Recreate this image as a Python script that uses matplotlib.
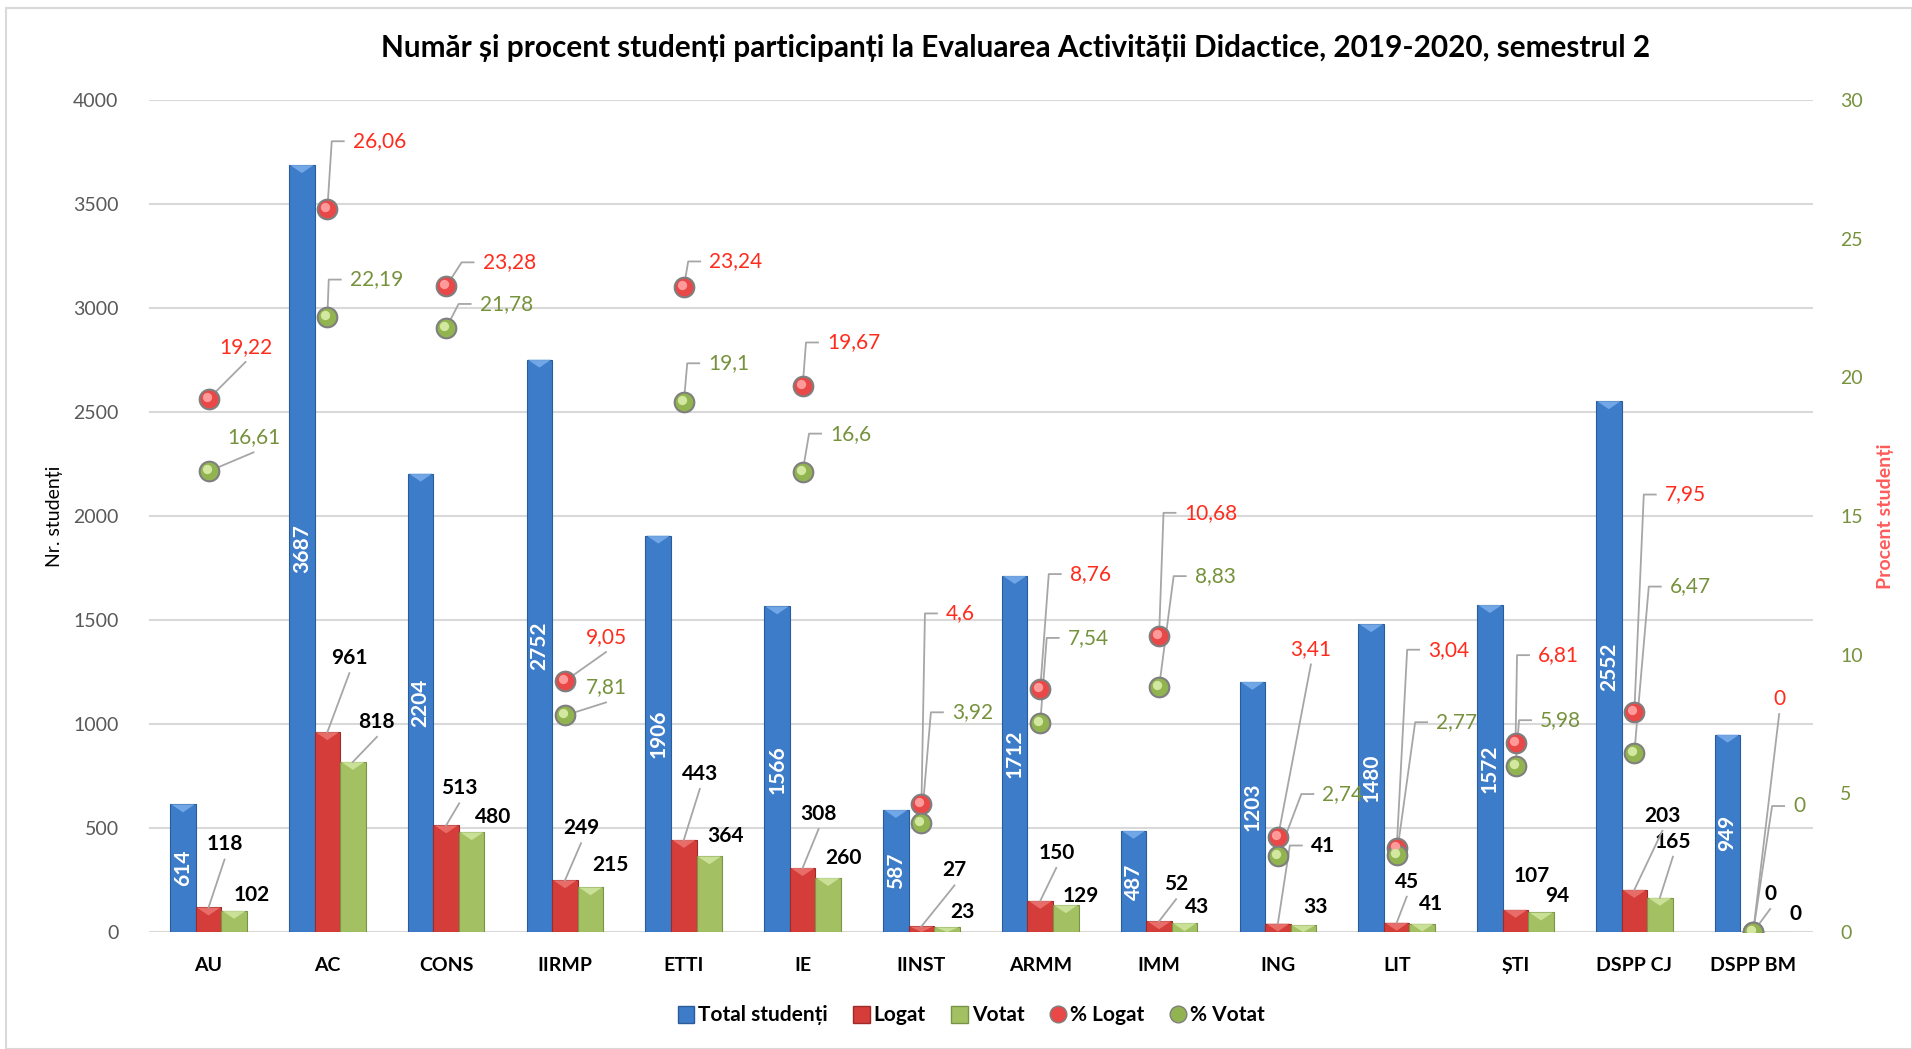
import matplotlib
matplotlib.use('Agg')
import matplotlib.pyplot as plt
import numpy as np
from matplotlib.patches import Patch, Rectangle, Polygon
from matplotlib.lines import Line2D
from matplotlib.transforms import IdentityTransform, offset_copy

plt.rcParams['font.family'] = ['Lato', 'DejaVu Sans']

facultati = ['AU', 'AC', 'CONS', 'IIRMP', 'ETTI', 'IE', 'IINST', 'ARMM', 'IMM',
             'ING', 'LIT', 'ȘTI', 'DSPP CJ', 'DSPP BM']
total = [614, 3687, 2204, 2752, 1906, 1566, 587, 1712, 487, 1203, 1480, 1572, 2552, 949]
logat = [118, 961, 513, 249, 443, 308, 27, 150, 52, 41, 45, 107, 203, 0]
votat = [102, 818, 480, 215, 364, 260, 23, 129, 43, 33, 41, 94, 165, 0]
pct_logat = [19.22, 26.06, 23.28, 9.05, 23.24, 19.67, 4.6, 8.76, 10.68, 3.41, 3.04, 6.81, 7.95, 0]
pct_votat = [16.61, 22.19, 21.78, 7.81, 19.1, 16.6, 3.92, 7.54, 8.83, 2.74, 2.77, 5.98, 6.47, 0]

# label offsets in pixels (dx, dy) from the point, as placed in the original
off_logat = [(16, 63), (22, 74), (13, 37), (16, 52), (16, 66), (16, 54), (33, 56),
             (16, 48), (17, 37), (45, 78), (10, 41), (16, 34), (28, 74), (17, 38)]
off_votat = [(18, 16), (24, 40), (21, 15), (20, 22), (16, 20), (15, 20), (15, 15),
             (15, 9), (12, 16), (12, 18), (9, 20), (16, 16), (13, 56), (17, 18)]
off_pl = [(37, 52), (52, 68), (63, 24), (41, 44), (52, 26), (51, 44), (39, 191),
          (50, 115), (52, 123), (33, 188), (52, 198), (43, 88), (51, 217), (26, 233)]
off_pv = [(45, 34), (49, 37), (60, 24), (41, 28), (45, 39), (48, 38), (51, 111),
          (48, 85), (56, 111), (65, 62), (60, 133), (45, 46), (56, 166), (46, 126)]

c_blue = '#3D7CC9'
c_red = '#D43D3A'
c_green = '#A3C163'
c_pl = '#FF2B1C'
c_pv = '#76923C'
c_lead = '#A6A6A6'


def fmt(v):
    return f'{v:g}'.replace('.', ',')


fig = plt.figure(figsize=(19.12, 10.49), dpi=100)
fig.patches.append(Rectangle((0.003, 0.0), 0.997, 0.992, transform=fig.transFigure,
                             fill=False, edgecolor='#D9D9D9', lw=1.5))
ax = fig.add_axes([0.078, 0.1115, 0.87, 0.7932])
ax2 = ax.twinx()

x = np.arange(len(facultati))
w = 0.215
series = [(x - w, total, c_blue, '#2A5C9A', '#7FB2EE'),
          (x, logat, c_red, '#9E2B28', '#EE7A76'),
          (x + w, votat, c_green, '#7A9445', '#D3E8A4')]
for xs, vals, col, edge, _ in series:
    ax.bar(xs, vals, w, color=col, edgecolor=edge, lw=0.8, zorder=2)

ax.set_xlim(-0.5, len(facultati) - 0.5)
ax.set_ylim(0, 4000)
ax.set_yticks(np.arange(0, 4001, 500))
ax.yaxis.grid(True, color='#D9D9D9', lw=1.5)
ax.set_axisbelow(True)
ax.set_xticks(x)
ax.set_xticklabels(facultati, fontsize=14, fontweight='bold')
ax.tick_params(axis='x', length=0, pad=18)
ax.tick_params(axis='y', length=0, pad=22, labelsize=14, labelcolor='#595959')
ax.set_ylabel('Nr. studenți', fontsize=14)
ax.yaxis.set_label_coords(-0.052, 0.5)

ax2.set_ylim(0, 30)
ax2.set_yticks(np.arange(0, 31, 5))
ax2.tick_params(axis='y', length=0, pad=20, labelsize=14, labelcolor=c_pv)
ax2.set_ylabel('Procent studenți', fontsize=14, fontweight='bold', color='#FF5B5B')
ax2.yaxis.set_label_coords(1.039, 0.5)
for a in (ax, ax2):
    for s in a.spines.values():
        s.set_visible(False)

ax2.scatter(x, pct_logat, s=200, color='#E94848', edgecolor='#7F7F7F', lw=1.5, zorder=4)
ax2.scatter(x, pct_votat, s=200, color='#92B450', edgecolor='#7F7F7F', lw=1.5, zorder=4)
shine = offset_copy(ax2.transData, fig=fig, x=-2, y=2, units='dots')
ax2.scatter(x, pct_logat, s=45, color='#FF9A9A', lw=0, transform=shine, zorder=4.1)
ax2.scatter(x, pct_votat, s=45, color='#D2E8A0', lw=0, transform=shine, zorder=4.1)

labels = []


def label(axis, xv, yv, text, off, color, weight):
    t = axis.annotate(text, (xv, yv), xytext=off, textcoords='offset pixels',
                      ha='center', va='center', fontsize=15, color=color,
                      fontweight=weight, annotation_clip=False, zorder=5)
    labels.append((axis, xv, yv, t))


for i in range(len(facultati)):
    ax.text(x[i] - w, total[i] / 2, str(total[i]), rotation=90, ha='center',
            va='center', color='white', fontsize=15, fontweight='bold', zorder=3)
    label(ax, x[i], logat[i], str(logat[i]), off_logat[i], 'black', 'bold')
    label(ax, x[i] + w, votat[i], str(votat[i]), off_votat[i], 'black', 'bold')
    label(ax2, x[i], pct_logat[i], fmt(pct_logat[i]), off_pl[i], c_pl, 'normal')
    label(ax2, x[i], pct_votat[i], fmt(pct_votat[i]), off_pv[i], c_pv, 'normal')

fig.text(0.531, 0.954, 'Număr și procent studenți participanți la Evaluarea Activității '
         'Didactice, 2019-2020, semestrul 2', ha='center', va='center',
         fontsize=21.4, fontweight='bold')

handles = [Patch(facecolor=c_blue, edgecolor='#2A5C9A'),
           Patch(facecolor=c_red, edgecolor='#9E2B28'),
           Patch(facecolor=c_green, edgecolor='#7A9445'),
           Line2D([], [], ls='', marker='o', ms=12, mfc='#E94848', mec='#7F7F7F'),
           Line2D([], [], ls='', marker='o', ms=12, mfc='#92B450', mec='#7F7F7F')]
fig.legend(handles, ['Total studenți', 'Logat', 'Votat', '% Logat', '% Votat'],
           loc='center', bbox_to_anchor=(0.508, 0.032), ncol=5, frameon=False,
           prop={'size': 15, 'weight': 'bold'}, handlelength=0.8, handleheight=0.9,
           handletextpad=0.2, columnspacing=1.2)

# leader lines and bevel tops, done in pixel space once the layout is known
fig.canvas.draw()
renderer = fig.canvas.get_renderer()
for axis, xv, yv, t in labels:
    px, py = axis.transData.transform((xv, yv))
    bb = t.get_window_extent(renderer)
    ymid = (bb.y0 + bb.y1) / 2
    if bb.x0 - px > 21:
        ex, ey = bb.x0 - 21, ymid
        pts = [(px, py), (ex, ey), (bb.x0 - 9, ymid)]
    else:
        ex, ey = (bb.x0 + bb.x1) / 2, bb.y0 - 5
        pts = [(px, py), (ex, ey)]
    if np.hypot(ex - px, ey - py) > 25:
        xs_, ys_ = zip(*pts)
        ax2.add_line(Line2D(xs_, ys_, color=c_lead, lw=1.3, transform=IdentityTransform(),
                            clip_on=False, zorder=3))

inv = ax.transData.inverted()
for xs, vals, col, edge, light in series:
    for xc, v in zip(xs, vals):
        if v <= 0:
            continue
        lx, ty = ax.transData.transform((xc - w / 2, v))
        rx, _ = ax.transData.transform((xc + w / 2, v))
        h = min(8, ty - ax.transData.transform((xc, 0))[1])
        tri = [inv.transform(p) for p in [(lx + 1, ty), (rx - 1, ty), ((lx + rx) / 2, ty - h)]]
        ax.add_patch(Polygon(tri, closed=True, color=light, alpha=0.8, lw=0, zorder=2.5))

fig.savefig('out.png', dpi=100)
